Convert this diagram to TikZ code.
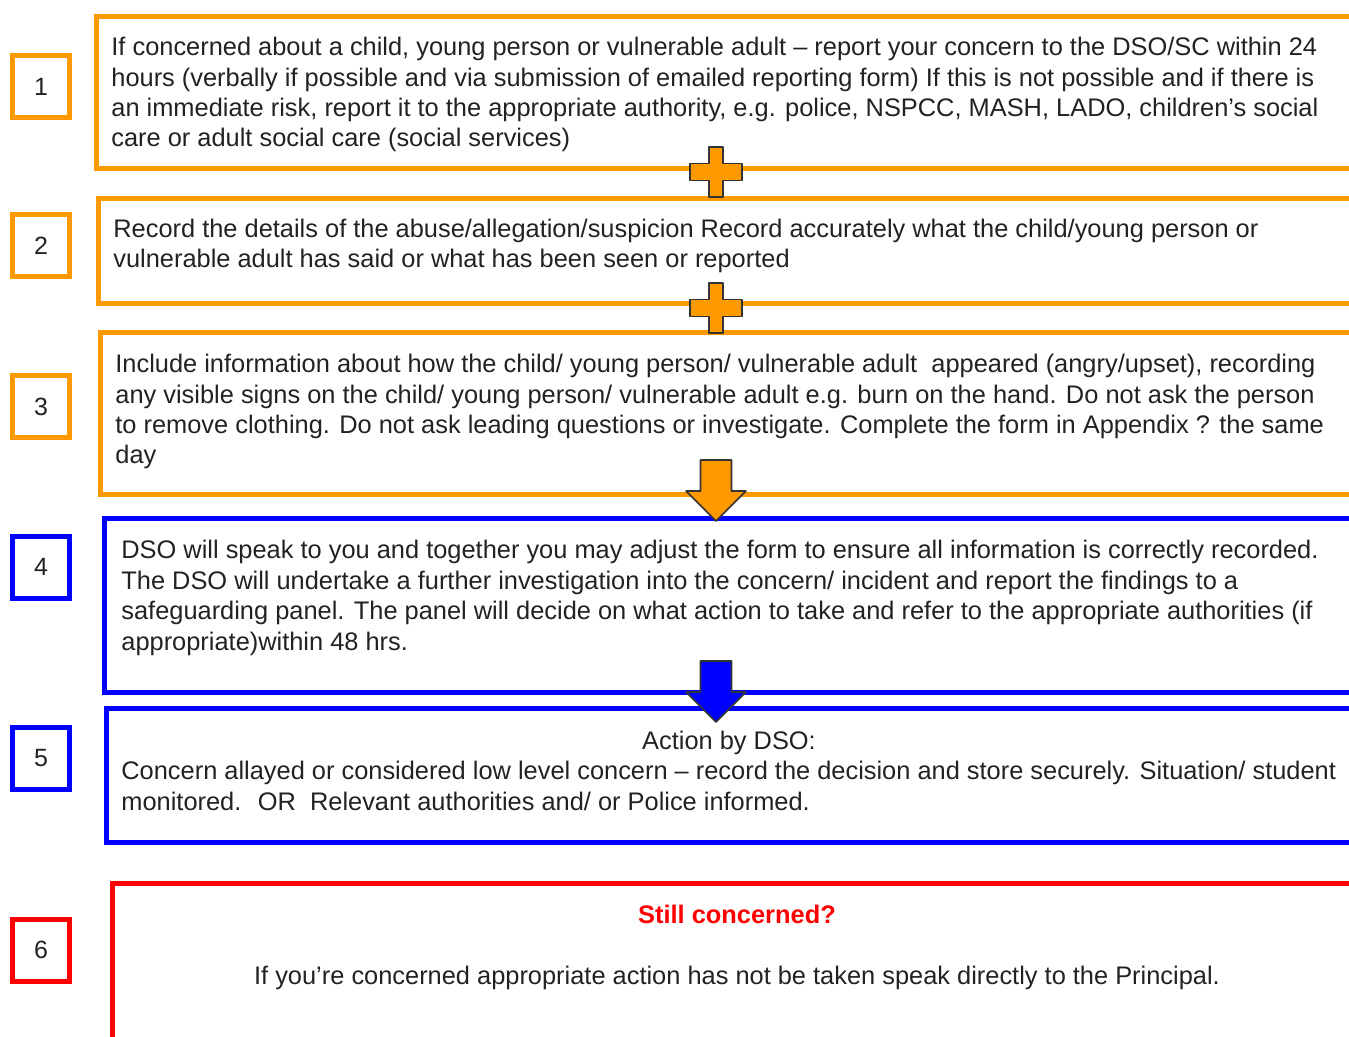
\documentclass[tikz,border=0pt]{standalone}
\usepackage{fontspec}
\setmainfont{Liberation Sans}
\usetikzlibrary{positioning}
\definecolor{gorange}{HTML}{FF9900}
\definecolor{gblue}{HTML}{0000FF}
\definecolor{gred}{HTML}{FF0000}
\definecolor{gtext}{HTML}{222222}

\tikzset{
  stepbox/.style={draw=#1,line width=2.3pt,anchor=north west,inner sep=0pt},
  numbox/.style={draw=#1,line width=2.5pt,minimum width=28.3pt,minimum height=31pt,inner sep=0pt,text=gtext,font=\fontsize{12.5}{15}\selectfont},
  steptext/.style={anchor=base west,align=left,inner sep=0pt,text=gtext,font=\fontsize{12.7}{15.2}\selectfont},
  joinline/.style={draw=black!80,line width=0.8pt,line join=round},
  plusjoin/.pic={
    \draw[joinline,fill=#1] (-7,-25) -- (7,-25) -- (7,-8.5) -- (26,-8.5) -- (26,8.5) -- (7,8.5)
      -- (7,25) -- (-7,25) -- (-7,8.5) -- (-26,8.5) -- (-26,-8.5) -- (-7,-8.5) -- cycle;
  },
  downjoin/.pic={
    \draw[joinline,fill=#1] (-15.5,-31) -- (15.5,-31) -- (15.5,0) -- (30,0) -- (0,30)
      -- (-30,0) -- (-15.5,0) -- cycle;
  }
}

\begin{document}
\begin{tikzpicture}[x=0.5pt,y=-0.5pt]
\useasboundingbox (0,0) rectangle (1349,1037);
\clip (0,0) rectangle (1349,1037);

% step boxes
\node[stepbox=gorange,minimum width=653pt,minimum height=76pt] (box1) at (94,14) {};
\node[stepbox=gorange,minimum width=652pt,minimum height=52.5pt] (box2) at (96,196) {};
\node[stepbox=gorange,minimum width=651pt,minimum height=81pt] (box3) at (98,330) {};
\node[stepbox=gblue,minimum width=649pt,minimum height=87pt] (box4) at (102,516) {};
\node[stepbox=gblue,minimum width=648pt,minimum height=67pt] (box5) at (104,706) {};
\node[stepbox=gred,minimum width=645pt,minimum height=100pt] (box6) at (110,881) {};

% numbers
\node[numbox=gorange] (num1) at (41,87) {1};
\node[numbox=gorange] (num2) at (41,246) {2};
\node[numbox=gorange] (num3) at (41,407) {3};
\node[numbox=gblue] (num4) at (41,567) {4};
\node[numbox=gblue] (num5) at (41,758) {5};
\node[numbox=gred] (num6) at (41,950) {6};

% texts (anchored at the baseline of their last line)
\node[steptext] (txt1) at (111,147) {If concerned about a child, young person or vulnerable adult -- report your concern to the DSO/SC within 24\\
hours (verbally if possible and via submission of emailed reporting form) If this is not possible and if there is\\
an immediate risk, report it to the appropriate authority, e.g. police, NSPCC, MASH, LADO, children’s social\\
care or adult social care (social services)};
\node[steptext] (txt2) at (113,268) {Record the details of the abuse/allegation/suspicion Record accurately what the child/young person or\\
vulnerable adult has said or what has been seen or reported};
\node[steptext] (txt3) at (115,464) {Include information about how the child/ young person/ vulnerable adult \ appeared (angry/upset), recording\\
any visible signs on the child/ young person/ vulnerable adult e.g. burn on the hand. Do not ask the person\\
to remove clothing. Do not ask leading questions or investigate. Complete the form in Appendix ? the same\\
day};
\node[steptext] (txt4) at (121,650) {DSO will speak to you and together you may adjust the form to ensure all information is correctly recorded.\\
The DSO will undertake a further investigation into the concern/ incident and report the findings to a\\
safeguarding panel. The panel will decide on what action to take and refer to the appropriate authorities (if\\
appropriate)within 48 hrs.};
\node[steptext,anchor=base] (act5) at (729,749) {Action by DSO:};
\node[steptext] (txt5) at (121,810) {Concern allayed or considered low level concern -- record the decision and store securely. Situation/ student\\
monitored. \ OR \ Relevant authorities and/ or Police informed.};
\node[steptext,anchor=base,text=gred,font=\fontsize{12.7}{15.2}\selectfont\bfseries] (hd6) at (737,923) {Still concerned?};
\node[steptext,anchor=base] (txt6) at (737,984) {If you’re concerned appropriate action has not be taken speak directly to the Principal.};

% joins between the steps
\coordinate (j12) at (716,172);
\coordinate (j23) at (716,308);
\coordinate (j34) at (716,491);
\coordinate (j45) at (716,692);
\pic at (j12) {plusjoin=gorange};
\pic at (j23) {plusjoin=gorange};
\pic at (j34) {downjoin=gorange};
\pic at (j45) {downjoin=gblue};

\end{tikzpicture}
\end{document}
